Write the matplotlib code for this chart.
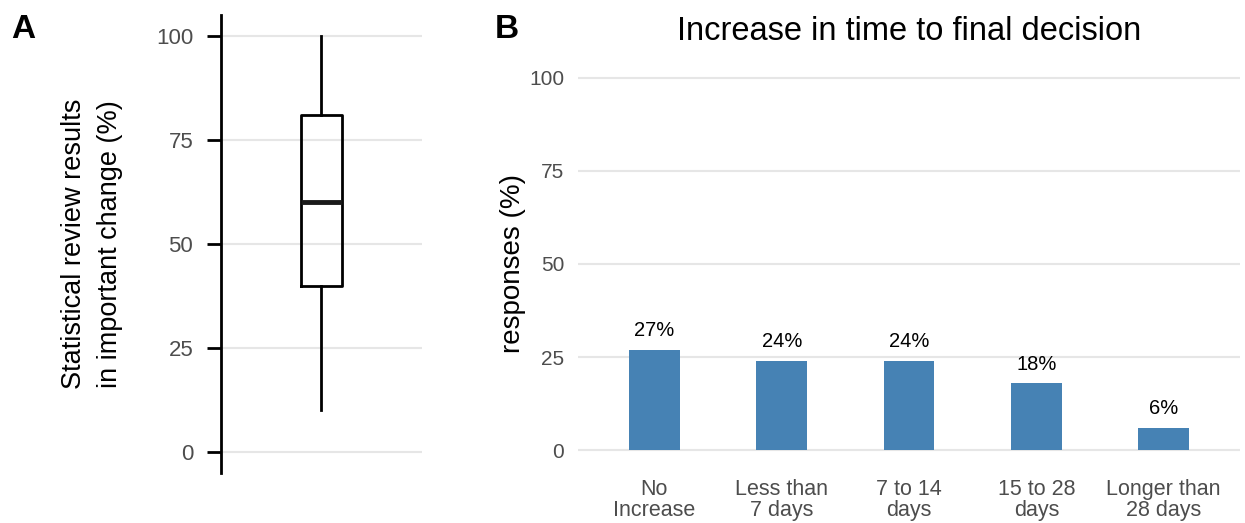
import numpy as np
import matplotlib.pyplot as plt

plt.rcParams['font.family'] = ['Liberation Sans', 'DejaVu Sans']

# panel A: box plot summary (percent)
box_low = 10
box_q1 = 40
box_med = 60
box_q3 = 81
box_high = 100

# panel B: bar chart
categories = ['No\nIncrease', 'Less than\n7 days', '7 to 14\ndays',
              '15 to 28\ndays', 'Longer than\n28 days']
responses = [27, 24, 24, 18, 6]
yticks = [0, 25, 50, 75, 100]

grid_col = '#E6E6E6'
tick_col = '#4D4D4D'

fig = plt.figure(figsize=(12.45, 5.23), dpi=100)

# --- A ---
axA = fig.add_axes([0.1775, 0.096, 0.1614, 0.875])
stats = [dict(whislo=box_low, q1=box_q1, med=box_med, q3=box_q3,
              whishi=box_high, fliers=[])]
axA.bxp(stats, positions=[1], widths=0.25, showcaps=False,
        boxprops=dict(color='black', linewidth=2),
        whiskerprops=dict(color='black', linewidth=2),
        medianprops=dict(color='#1a1a1a', linewidth=3.5))
axA.set_xlim(0.4, 1.6)
axA.set_ylim(-5, 105)
axA.set_yticks(yticks)
axA.set_xticks([])
axA.yaxis.grid(True, color=grid_col, linewidth=1.5)
axA.set_axisbelow(True)
for s in ['top', 'right', 'bottom']:
    axA.spines[s].set_visible(False)
axA.spines['left'].set_linewidth(2)
axA.tick_params(axis='y', length=10, width=2, labelsize=16,
                labelcolor=tick_col, pad=10)
axA.set_ylabel('Statistical review results\nin important change (%)',
               fontsize=19.5, labelpad=24, linespacing=1.5)

# --- B ---
axB = fig.add_axes([0.4643, 0.1033, 0.5317, 0.7839])
x = np.arange(1, len(categories) + 1)
bars = axB.bar(x, responses, width=0.4, color='#4682B4')
for b, v in zip(bars, responses):
    axB.annotate(f'{v}%', (b.get_x() + b.get_width() / 2, v),
                 xytext=(0, 7), textcoords='offset points',
                 ha='center', va='bottom', fontsize=14.5, color='black')
axB.set_xlim(0.4, 5.6)
axB.set_ylim(-5, 105)
axB.set_yticks(yticks)
axB.set_xticks(x)
axB.set_xticklabels(categories, linespacing=1.05)
axB.yaxis.grid(True, color=grid_col, linewidth=1.5)
axB.set_axisbelow(True)
for s in axB.spines.values():
    s.set_visible(False)
axB.tick_params(axis='y', length=0, labelsize=15, labelcolor=tick_col, pad=10)
axB.tick_params(axis='x', length=0, labelsize=15.5, labelcolor=tick_col, pad=7)
axB.set_ylabel('responses (%)', fontsize=20, labelpad=2)
axB.set_title('Increase in time to final decision', fontsize=23.5, pad=14)

fig.text(11 / 1245, 1 - 29 / 523, 'A', fontsize=24, fontweight='bold', va='center')
fig.text(495 / 1245, 1 - 29 / 523, 'B', fontsize=24, fontweight='bold', va='center')

fig.savefig('out.png', dpi=100)
